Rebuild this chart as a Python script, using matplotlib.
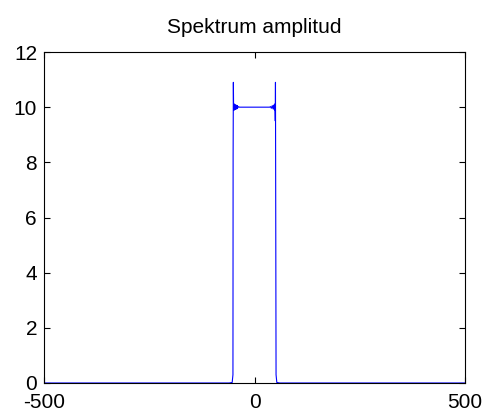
import matplotlib
matplotlib.use("Agg")
import matplotlib.pyplot as plt

# frequency axis samples and amplitude spectrum
freq = [-500, -60, -53, -51.2, -50.8, -50.2, -49.6, -48.8, -48.0, -47.0, -46.0,
        -45.0, -44.0, -43.0, -42.0, -41.0, -40.0, -38.0, -36.0, -30.0, 0.0,
        30.0, 36.0, 38.0, 40.0, 42.0, 44.0, 45.0, 46.0, 47.0, 48.0, 48.8, 49.4,
        49.8, 50.2, 51.2, 53.0, 60.0, 500]
amp = [0.0, 0.0, 0.02, 0.3, 8.2, 10.9, 9.88, 10.12, 9.9, 10.1, 9.92,
       10.08, 9.93, 10.07, 9.94, 10.06, 9.97, 10.02, 10.0, 10.0, 10.0,
       10.0, 10.0, 10.02, 9.96, 10.05, 9.94, 10.07, 9.93, 10.08, 9.9, 10.12, 9.5,
       10.9, 8.0, 0.3, 0.02, 0.0, 0.0]

title_text = "Spektrum amplitud"
xticks = [-500, 0, 500]
yticks = [0, 2, 4, 6, 8, 10, 12]

plt.rcParams['font.family'] = ['Liberation Sans', 'DejaVu Sans']

fig = plt.figure(figsize=(4.88, 4.17), dpi=100)
ax = fig.add_axes([44/488, 1 - 383/417, (465-44)/488, (383-52)/417])
ax.plot(freq, amp, color=(0.0, 0.0, 1.0), linewidth=0.8)
ax.set_xlim(-500, 500)
ax.set_ylim(0, 12)
ax.set_xticks(xticks)
ax.set_yticks(yticks)
ax.set_xticklabels([str(v) for v in xticks])
ax.set_yticklabels([str(v) for v in yticks])
ax.tick_params(direction='in', length=4, width=0.8, top=True, right=True,
               labelsize=15)
ax.tick_params(axis='x', pad=7)
ax.tick_params(axis='y', pad=5)
for s in ax.spines.values():
    s.set_linewidth(0.8)
ax.set_title(title_text, fontsize=15, pad=14)
fig.savefig("out.png", dpi=100)
